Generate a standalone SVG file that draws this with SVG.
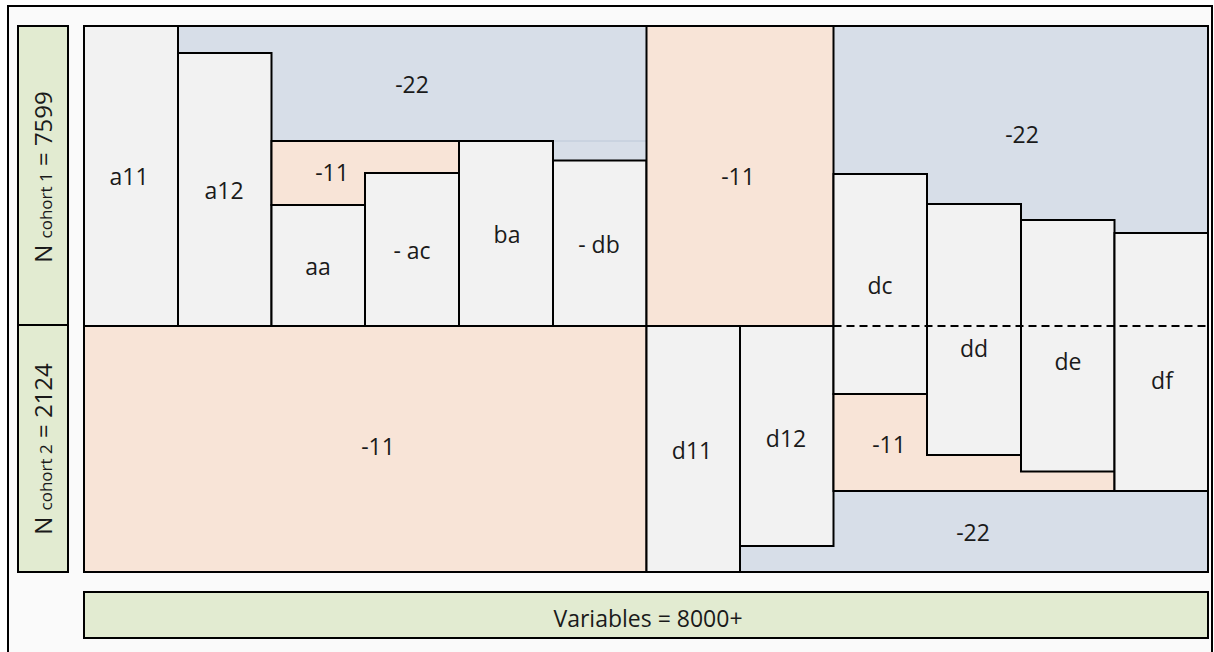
<svg xmlns="http://www.w3.org/2000/svg" width="1214" height="652" viewBox="0 0 1214 652">
<style>
.t{font-family:"Open Sans","Noto Sans","Liberation Sans",sans-serif;font-size:23px;fill:#1a1a1a;text-anchor:middle}
.lb{font-size:24px}
.g{fill:#f2f2f2;stroke:#000;stroke-width:2}
.o{fill:#f8e4d7;stroke:#000;stroke-width:2}
.b{fill:#d7dee8;stroke:none}
.gr{fill:#e2ebd1;stroke:#000;stroke-width:2}
.ln{stroke:#000;stroke-width:2;fill:none}
</style>
<rect x="8" y="6" width="1204" height="660" fill="#fafafa" stroke="#000" stroke-width="2"/>
<g id="labels">
<g id="cohort1"><rect class="gr" x="18" y="26" width="50" height="299"/>
<text class="t lb" transform="translate(52,177) rotate(-90)"><tspan>N </tspan><tspan font-size="17">cohort 1</tspan><tspan> = 7599</tspan></text></g>
<g id="cohort2"><rect class="gr" x="18" y="325" width="50" height="247"/>
<text class="t lb" transform="translate(52,449) rotate(-90)"><tspan>N </tspan><tspan font-size="17">cohort 2</tspan><tspan> = 2124</tspan></text></g>
<g id="variables"><rect class="gr" x="84" y="592" width="1124" height="46"/>
<text class="t" x="648" y="627">Variables = 8000+</text></g>
</g>
<g id="backgrounds">
<rect id="blue-top-left" class="b" x="178" y="26" width="468" height="140"/>
<line x1="553" y1="141" x2="646" y2="141" stroke="#bcc8d8" stroke-width="1"/>
<rect id="blue-top-right" class="b" x="833" y="26" width="375" height="210"/>
<rect id="blue-bottom" class="b" x="740" y="491" width="468" height="81"/>
</g>
<g id="nodes">
<g id="a11"><rect class="g" x="84" y="26" width="94" height="300"/><text class="t" x="129" y="185">a11</text></g>
<g id="a12"><rect class="g" x="178" y="53" width="93.5" height="273"/><text class="t" x="224" y="199">a12</text></g>
<g id="o-small"><rect class="o" x="271.5" y="141" width="187.5" height="64"/><text class="t" x="332" y="181">-11</text></g>
<g id="aa"><rect class="g" x="271.5" y="205" width="93.5" height="121"/><text class="t" x="318" y="275">aa</text></g>
<g id="ac"><rect class="g" x="365" y="173" width="94" height="153"/><text class="t" x="412" y="259">- ac</text></g>
<g id="ba"><rect class="g" x="459" y="141" width="94" height="185"/><text class="t" x="507" y="243">ba</text></g>
<g id="db"><rect class="g" x="553" y="160.5" width="93.5" height="165.5"/><text class="t" x="599" y="253">- db</text></g>
<g id="o-col7"><rect class="o" x="646.5" y="26" width="187" height="300"/><text class="t" x="738" y="185">-11</text></g>
<g id="o-bottom-left"><rect class="o" x="84" y="326" width="562.5" height="246"/><text class="t" x="378" y="455">-11</text></g>
<g id="d11"><rect class="g" x="646.5" y="326" width="93.5" height="246"/><text class="t" x="692" y="459">d11</text></g>
<g id="d12"><rect class="g" x="740" y="326" width="93.5" height="220"/><text class="t" x="786" y="447">d12</text></g>
<g id="o-bottom-right"><rect class="o" x="833.5" y="394" width="281" height="97"/><text class="t" x="889" y="453">-11</text></g>
<g id="dc"><rect class="g" x="833.5" y="174" width="93.5" height="220"/><text class="t" x="880" y="294">dc</text></g>
<g id="dd"><rect class="g" x="927" y="204" width="94" height="251"/><text class="t" x="974" y="357">dd</text></g>
<g id="de"><rect class="g" x="1021" y="220" width="93.5" height="251.5"/><text class="t" x="1068" y="370">de</text></g>
<g id="df"><rect class="g" x="1114.5" y="233" width="93.5" height="258"/><text class="t" x="1162" y="389">df</text></g>
<g id="blue-labels">
<text class="t" x="412" y="93">-22</text>
<text class="t" x="1022" y="143">-22</text>
<text class="t" x="973" y="541">-22</text>
</g>
</g>
<g id="connectors">
<line class="ln" x1="84" y1="326" x2="833.5" y2="326"/>
<line class="ln" x1="833.5" y1="326" x2="1208" y2="326" stroke-dasharray="8 5"/>
<rect class="ln" x="84" y="26" width="1124" height="546"/>
</g>
</svg>
